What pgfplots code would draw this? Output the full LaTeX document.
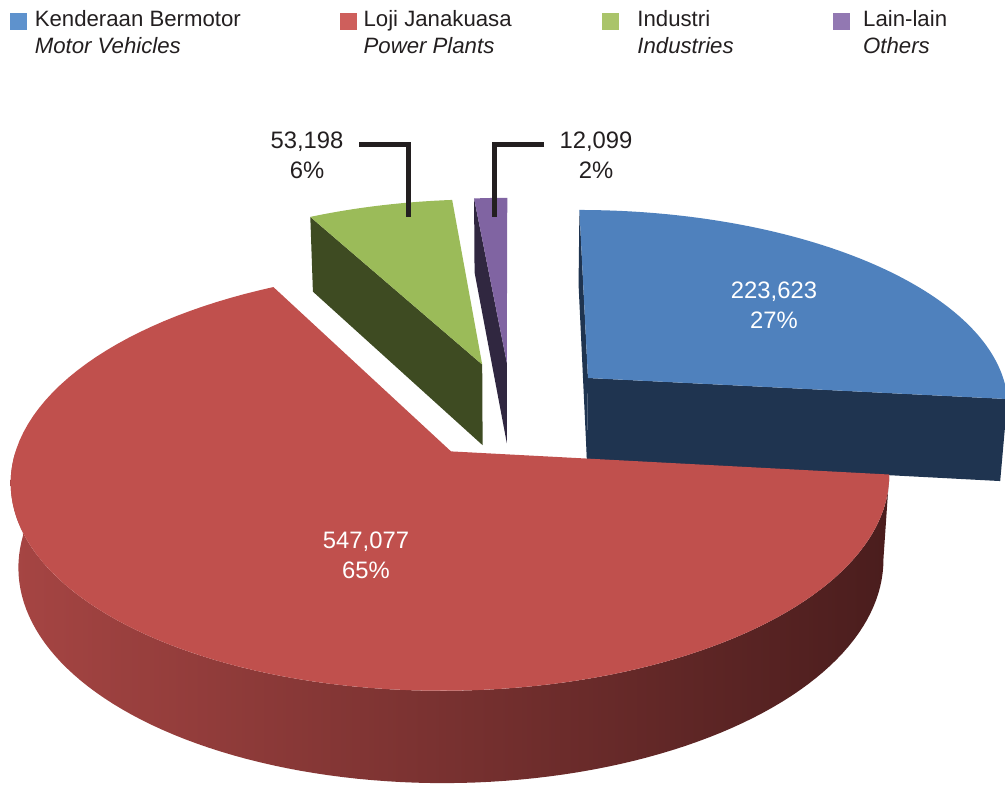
\documentclass[border=0pt]{standalone}
\usepackage{pgfplots}
\pgfplotsset{compat=1.18}
\usepackage{fontspec}
\setmainfont{Liberation Sans}
\definecolor{blueT}{RGB}{79,129,189}
\definecolor{blueW}{RGB}{31,52,80}
\definecolor{redT}{RGB}{192,80,77}
\definecolor{greenT}{RGB}{155,187,89}
\definecolor{greenW}{RGB}{62,75,34}
\definecolor{purpT}{RGB}{128,100,162}
\definecolor{purpW}{RGB}{48,39,64}
\definecolor{redWL}{RGB}{166,69,67}
\definecolor{redWM}{RGB}{100,40,39}
\definecolor{redWR}{RGB}{74,29,29}
\definecolor{lgBlue}{RGB}{94,146,205}
\definecolor{lgRed}{RGB}{206,95,92}
\definecolor{lgGreen}{RGB}{170,196,106}
\definecolor{lgPurp}{RGB}{146,120,178}
\definecolor{txt}{RGB}{35,31,32}
% data
\def\vA{223623}% Kenderaan Bermotor
\def\vB{547077}% Loji Janakuasa
\def\vC{53198}%  Industri
\def\vD{12099}%  Lain-lain
\edef\tot{\fpeval{\vA+\vB+\vC+\vD}}
\edef\aB{\fpeval{round(90-360*\vA/\tot,4)}}
\edef\aR{\fpeval{round(90-360*(\vA+\vB)/\tot,4)}}
\edef\aG{\fpeval{round(90-360*(\vA+\vB+\vC)/\tot,4)}}
\edef\aP{\fpeval{round(90-360*(\vA+\vB+\vC+\vD)/\tot,4)}}
\def\ex{0.2475}
\def\hh{0.223}
\edef\euB{\fpeval{round(\ex*cosd((90+\aB)/2),5)}}
\edef\evB{\fpeval{round(\ex*sind((90+\aB)/2),5)}}
\edef\euR{\fpeval{round(\ex*cosd((\aB+\aR)/2),5)}}
\edef\evR{\fpeval{round(\ex*sind((\aB+\aR)/2),5)}}
\edef\euG{\fpeval{round(\ex*cosd((\aR+\aG)/2),5)}}
\edef\evG{\fpeval{round(\ex*sind((\aR+\aG)/2),5)}}
\edef\euP{\fpeval{round(\ex*cosd((\aG+\aP)/2),5)}}
\edef\evP{\fpeval{round(\ex*sind((\aG+\aP)/2),5)}}
% slice parts
\newcommand\TopFace[5]{%
 \addplot[forget plot, draw=none, fill=#5, variable=\t, domain=-1:2, samples=301]
 ({PX(#3+rh(\t)*cos((#1)+((#2)-(#1))*fr(\t)), #4+rh(\t)*sin((#1)+((#2)-(#1))*fr(\t)), 0)},
  {PY(#3+rh(\t)*cos((#1)+((#2)-(#1))*fr(\t)), #4+rh(\t)*sin((#1)+((#2)-(#1))*fr(\t)), 0)});
}
\newcommand\RadialWall[4]{%
 \addplot[forget plot, draw=none, fill=#4, variable=\t, domain=0:4, samples=5]
 ({PX(#2+rw(\t)*cos(#1), #3+rw(\t)*sin(#1), -\hh*zw(\t))},
  {PY(#2+rw(\t)*cos(#1), #3+rw(\t)*sin(#1), -\hh*zw(\t))});
}
\newcommand\OuterWall[5]{%
 \addplot[forget plot, draw=none, #5, variable=\t, domain=0:3, samples=301]
 ({PX(#3+cos((#1)+((#2)-(#1))*ow(\t)), #4+sin((#1)+((#2)-(#1))*ow(\t)), -\hh*oz(\t))},
  {PY(#3+cos((#1)+((#2)-(#1))*ow(\t)), #4+sin((#1)+((#2)-(#1))*ow(\t)), -\hh*oz(\t))});
}
\begin{document}
\begin{tikzpicture}[declare function={
  wf(\U,\V,\Z)=1+0.128*\V-0.06724*\Z;
  PX(\U,\V,\Z)=511.4+424*\U/wf(\U,\V,\Z);
  PY(\U,\V,\Z)=380.1+424*(0.465*\V+0.885*\Z)/wf(\U,\V,\Z);
  rh(\s)=min(1,min(1+\s,2-\s));
  fr(\s)=max(0,min(1,\s));
  rw(\s)=max(0,min(1,min(\s,3-\s)));
  zw(\s)=max(0,min(1,min(\s-1,4-\s)));
  ow(\s)=fr(\s)-fr(\s-1.5);
  oz(\s)=max(0,min(1,min(2*(\s-1),2*(3-\s))));
}]
\begin{axis}[width=502.5pt, height=395pt, scale only axis,
  xmin=0, xmax=1005, ymin=0, ymax=790, hide axis, clip=false,
  legend columns=4,
  legend style={at={(axis cs:10,781.9)}, anchor=north west, draw=none, fill=none,
    inner sep=0pt, outer sep=0pt, text=txt,
    font=\fontsize{11.1}{13.3}\selectfont,
    cells={anchor=base west}, nodes={inner sep=0pt, outer sep=0pt},
    column sep=0pt, row sep=0pt},
]
% purple
\RadialWall{\aG}{\euP}{\evP}{purpW}
\TopFace{\aP}{\aG}{\euP}{\evP}{purpT}
% green
\RadialWall{\aR}{\euG}{\evG}{greenW}
\TopFace{\aG}{\aR}{\euG}{\evG}{greenT}
% blue
\RadialWall{90}{\euB}{\evB}{blueW}
\RadialWall{\aB}{\euB}{\evB}{blueW}
\TopFace{\aB}{90}{\euB}{\evB}{blueT}
% red
\OuterWall{-180}{\aB}{\euR}{\evR}{left color=redWL, middle color=redWM, right color=redWR}
\TopFace{\aR}{\aB}{\euR}{\evR}{redT}
% leader lines
\addplot[forget plot, no marks, line width=2.4pt, color=txt] coordinates {(359,645.5) (408.7,645.5) (408.7,572.7)};
\addplot[forget plot, no marks, line width=2.4pt, color=txt] coordinates {(544,645.5) (494.5,645.5) (494.5,572.7)};
% labels
\node[anchor=base, text=white, font=\fontsize{11.9}{14}\selectfont] at (axis cs:774,491) {223,623};
\node[anchor=base, text=white, font=\fontsize{11.9}{14}\selectfont] at (axis cs:774,461) {27\%};
\node[anchor=base, text=white, font=\fontsize{11.9}{14}\selectfont] at (axis cs:366,241) {547,077};
\node[anchor=base, text=white, font=\fontsize{11.9}{14}\selectfont] at (axis cs:366,211) {65\%};
\node[anchor=base, text=txt, font=\fontsize{11.9}{14}\selectfont] at (axis cs:307,641) {53,198};
\node[anchor=base, text=txt, font=\fontsize{11.9}{14}\selectfont] at (axis cs:307,611) {6\%};
\node[anchor=base, text=txt, font=\fontsize{11.9}{14}\selectfont] at (axis cs:596,641) {12,099};
\node[anchor=base, text=txt, font=\fontsize{11.9}{14}\selectfont] at (axis cs:596,611) {2\%};
% legend
\addlegendimage{legend image code/.code={\fill[lgBlue] (0pt,-1.15pt) rectangle (8pt,6.85pt);}}
\addlegendentry{\hspace{4pt}\makebox[152.5pt][l]{\begin{tabular}[t]{@{}l@{}}Kenderaan Bermotor\\\textit{Motor Vehicles}\end{tabular}}}
\addlegendimage{legend image code/.code={\fill[lgRed] (0pt,-1.15pt) rectangle (8pt,6.85pt);}}
\addlegendentry{\hspace{3.5pt}\makebox[119pt][l]{\begin{tabular}[t]{@{}l@{}}Loji Janakuasa\\\textit{Power Plants}\end{tabular}}}
\addlegendimage{legend image code/.code={\fill[lgGreen] (0pt,-1.15pt) rectangle (8pt,6.85pt);}}
\addlegendentry{\hspace{9.5pt}\makebox[98pt][l]{\begin{tabular}[t]{@{}l@{}}Industri\\\textit{Industries}\end{tabular}}}
\addlegendimage{legend image code/.code={\fill[lgPurp] (0pt,-1.15pt) rectangle (8pt,6.85pt);}}
\addlegendentry{\hspace{6.5pt}\begin{tabular}[t]{@{}l@{}}Lain-lain\\\textit{Others}\end{tabular}}
\end{axis}
\pgfresetboundingbox
\path (0,0) rectangle (502.5pt,395pt);
\end{tikzpicture}
\end{document}
